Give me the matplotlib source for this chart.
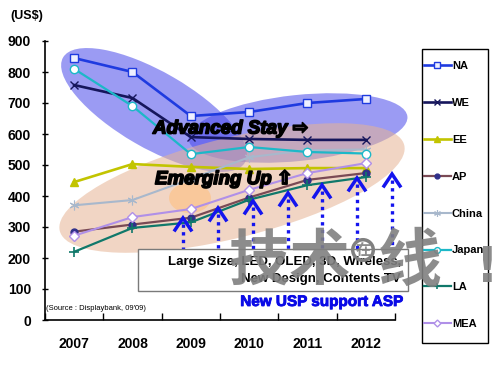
"""
TV ASP by region (2007-2012) with Advanced / Emerging highlights
"""
import matplotlib.pyplot as plt
import matplotlib.patheffects as pe
from matplotlib.patches import Ellipse, Rectangle

# Data (US$)
years = ['2007', '2008', '2009', '2010', '2011', '2012']
na = [845, 800, 658, 671, 700, 713]
we = [758, 716, 590, 584, 581, 581]
ee = [445, 503, 494, 487, 490, 490]
ap = [285, 308, 330, 395, 452, 474]
china = [370, 387, 455, 525, 548, 550]
japan = [810, 690, 535, 558, 542, 537]
la = [220, 297, 315, 388, 435, 461]
mea = [272, 332, 358, 420, 474, 506]
y_ticks = [0, 100, 200, 300, 400, 500, 600, 700, 800, 900]

W, H = 500, 366
fig = plt.figure(figsize=(W / 100, H / 100), dpi=100, facecolor='white')
ax = fig.add_axes([45 / W, 1 - 320 / H, 350 / W, 279 / H])
x = list(range(len(years)))


def inch(px, py):
    # pixel position (from top-left) -> inches for dpi_scale_trans
    return px / 100, (H - py) / 100


# Series
series = [
    ('NA', na, dict(color='#1f3be0', lw=1.9, marker='s', ms=6, mfc='#eef0ff', mec='#1f3be0')),
    ('WE', we, dict(color='#16165c', lw=1.9, marker='x', ms=6, mew=1.0)),
    ('EE', ee, dict(color='#c2c400', lw=1.9, marker='^', ms=6, mfc='#c2c400')),
    ('AP', ap, dict(color='#7a4a55', lw=1.6, marker='o', ms=5, mfc='#30308a', mec='#30308a')),
    ('China', china, dict(color='#a8b8cc', lw=1.5, marker=(6, 2, 0), ms=7, mew=0.8)),
    ('Japan', japan, dict(color='#1cb8c8', lw=1.6, marker='o', ms=6, mfc='white', mec='#1cb8c8')),
    ('LA', la, dict(color='#10786a', lw=1.6, marker='+', ms=7, mew=1.2)),
    ('MEA', mea, dict(color='#b090e8', lw=1.5, marker='D', ms=5, mfc='white', mec='#b090e8')),
]
handles = []
for name, vals, style in series:
    h, = ax.plot(x, vals, label=name, zorder=2, clip_on=False, **style)
    handles.append(h)

# Highlight ellipses (behind the lines)
blue = dict(facecolor='#4a4aea', edgecolor='none', alpha=0.55, zorder=1,
            transform=fig.dpi_scale_trans, clip_on=False)
tan = dict(facecolor='#e6b494', edgecolor='none', alpha=0.55, zorder=1,
           transform=fig.dpi_scale_trans, clip_on=False)
ax.add_artist(Ellipse(inch(154, 110), 2.10, 0.76, angle=-30, **blue))
ax.add_artist(Ellipse(inch(298, 128), 2.20, 0.66, angle=6, **blue))
ax.add_artist(Ellipse(inch(232, 188), 3.55, 1.00, angle=14, **tan))
ax.add_artist(Ellipse(inch(190, 198), 0.42, 0.30, angle=0, facecolor='#ffc080',
                      edgecolor='none', alpha=0.6, zorder=1,
                      transform=fig.dpi_scale_trans, clip_on=False))

bold_it = dict(fontsize=13.5, fontweight='bold', fontstyle='italic', color='black',
               family=['Liberation Sans', 'DejaVu Sans'], va='center', ha='left',
               transform=fig.dpi_scale_trans, zorder=6,
               path_effects=[pe.withStroke(linewidth=1.2, foreground='black')])
ax.text(*inch(153, 129), 'Advanced Stay \u21e8', **bold_it)
ax.text(*inch(155, 179), 'Emerging Up \u21e7', **bold_it)

# Blue dotted arrows (New USP support ASP)
arrow_x = [183, 218, 253, 288, 322, 357, 392]
arrow_tip = [218, 208, 201, 193, 185, 178, 174]
for ax_px, tip in zip(arrow_x, arrow_tip):
    xs, ys = zip(inch(ax_px, tip + 6), inch(ax_px, 249))
    ax.plot(xs, ys, color='#1414ee', lw=2.4, dashes=(1, 1.3),
            transform=fig.dpi_scale_trans, clip_on=False, zorder=5)
    hx, hy = zip(inch(ax_px - 8, tip + 12), inch(ax_px, tip), inch(ax_px + 8, tip + 12))
    ax.plot(hx, hy, color='#1414ee', lw=2.5, solid_joinstyle='miter',
            transform=fig.dpi_scale_trans, clip_on=False, zorder=5)

# Text box
bx, by = inch(138, 291)
ax.add_artist(Rectangle((bx, by), 2.70, 0.42, facecolor='white', edgecolor='#7a7a7a',
                        lw=1, transform=fig.dpi_scale_trans, clip_on=False, zorder=5))
box_font = dict(fontsize=9.5, fontweight='bold', family='Liberation Sans', ha='right',
                va='center', transform=fig.dpi_scale_trans, zorder=6)
ax.text(*inch(401, 262), 'Large Size, LED, OLED, 3D, Wireless,', **box_font)
ax.text(*inch(401, 279), 'New Design, Contents TV', **box_font)
ax.text(*inch(403, 302), 'New USP support ASP', fontsize=11, fontweight='bold',
        family='Liberation Sans', color='#0a0ae6', ha='right', va='center',
        transform=fig.dpi_scale_trans, zorder=6,
        path_effects=[pe.withStroke(linewidth=0.6, foreground='#0a0ae6')])
ax.text(*inch(46, 309), "(Source : Displaybank, 09'09)", fontsize=5.5,
        family='Liberation Sans', ha='left', va='center',
        transform=fig.dpi_scale_trans, zorder=6)
fig.text(10 / W, 1 - 16 / H, '(US$)', fontsize=9, fontweight='bold',
         family='Liberation Sans', ha='left', va='center')

# Axes
ax.set_xlim(-0.5, len(years) - 0.5)
ax.set_ylim(0, 900)
ax.set_yticks(y_ticks)
ax.set_yticklabels([str(v) for v in y_ticks], fontsize=10, fontweight='bold',
                   family='Liberation Sans')
ax.set_xticks([i - 0.5 for i in range(len(years) + 1)])
ax.set_xticklabels([])
ax.set_xticks(x, minor=True)
ax.set_xticklabels(years, minor=True, fontsize=10, fontweight='bold',
                   family='Liberation Sans')
ax.tick_params(axis='x', which='major', direction='in', length=5, width=1)
ax.tick_params(axis='x', which='minor', length=0, pad=12)
ax.tick_params(axis='y', direction='inout', length=4, width=1, pad=8)
for side in ('top', 'right'):
    ax.spines[side].set_visible(False)
for side in ('left', 'bottom'):
    ax.spines[side].set_linewidth(1.2)
ax.set_facecolor('none')

# Legend (frame drawn separately)
lx, ly = inch(422, 343)
ax.add_artist(Rectangle((lx, ly), 0.66, 2.94, facecolor='white', edgecolor='black',
                        lw=1, transform=fig.dpi_scale_trans, clip_on=False, zorder=4))
leg = ax.legend(handles=handles, loc='upper left', bbox_to_anchor=(424 / W, 1 - 61 / H),
                bbox_transform=fig.transFigure, borderaxespad=0, borderpad=0,
                prop=dict(family='Liberation Sans', weight='bold', size=8),
                labelspacing=2.42, handlelength=2.4, handletextpad=0.1,
                frameon=False, markerscale=0.7)
leg.set_zorder(4.5)

# Watermark
wm = dict(color='#808080', alpha=0.9, family=['Noto Sans CJK SC', 'DejaVu Sans'],
          fontweight='bold', va='center', ha='left', zorder=10)
fig.text(228 / W, 1 - 262 / H, '技术', fontsize=44, **wm)
fig.text(363 / W, 1 - 250 / H, '在', fontsize=11, color='#808080', alpha=0.9,
         family='Noto Sans CJK SC', fontweight='bold', ha='center', va='center', zorder=10,
         bbox=dict(boxstyle='circle,pad=0.15', facecolor='none', edgecolor='#808080', lw=2.5))
fig.text(378 / W, 1 - 262 / H, '线', fontsize=46, **wm)
fig.text(476 / W, 1 - 268 / H, '!', fontsize=36, color='#808080', alpha=0.9,
         family='DejaVu Sans', fontweight='bold', ha='left', va='center', zorder=10)

fig.savefig('out.png', dpi=100, facecolor='white')
